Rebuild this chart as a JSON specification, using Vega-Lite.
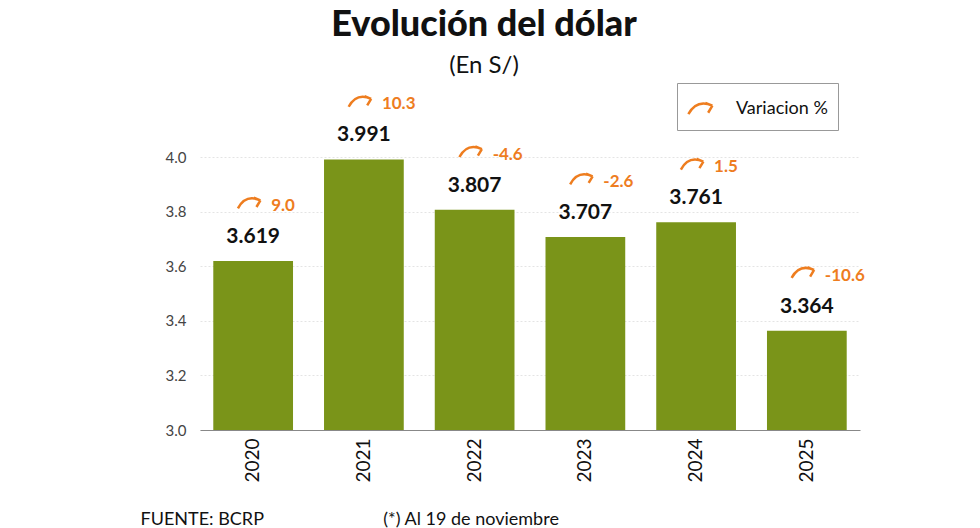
{
"$schema":"https://vega.github.io/schema/vega-lite/v6.json",
"width":660,"height":273,
"autosize":{"type":"none"},
"padding":{"left":200,"top":157,"right":120,"bottom":98},
"background":"white",
"title":{"text":"Evolución del dólar","subtitle":"(En S/)","anchor":"middle","frame":"group","dx":-46,"offset":4,"font":"Lato","fontSize":36,"fontWeight":900,"color":"#111","subtitleFont":"Lato","subtitleFontSize":24,"subtitleColor":"#111","subtitlePadding":10},
"data":{"values":[
{"year":"2020","v":3.619,"var":"9.0"},
{"year":"2021","v":3.991,"var":"10.3"},
{"year":"2022","v":3.807,"var":"-4.6"},
{"year":"2023","v":3.707,"var":"-2.6"},
{"year":"2024","v":3.761,"var":"1.5"},
{"year":"2025","v":3.364,"var":"-10.6"}
]},
"encoding":{
"x":{"field":"year","type":"nominal","scale":{"paddingInner":0.28,"paddingOuter":0.12},"axis":{"title":"FUENTE: BCRP\u00a0\u00a0\u00a0\u00a0\u00a0\u00a0\u00a0\u00a0\u00a0\u00a0\u00a0\u00a0\u00a0\u00a0\u00a0\u00a0\u00a0\u00a0\u00a0\u00a0\u00a0\u00a0\u00a0\u00a0\u00a0\u00a0(*) Al 19 de noviembre","titleAnchor":"start","titleX":-60,"titleY":80,"titleFont":"Lato","titleFontSize":18,"titleFontWeight":"normal","titleColor":"#111","labelAngle":-90,"labelFontSize":19,"labelFont":"Lato","labelColor":"#111","labelPadding":8,"domainColor":"#888","ticks":false}},
"y":{"field":"v","type":"quantitative","scale":{"domain":[3,4],"nice":false},"axis":{"title":null,"values":[3,3.2,3.4,3.6,3.8,4],"format":".1f","labelFontSize":15,"labelFont":"Lato","labelColor":"#444","domain":false,"ticks":false,"gridColor":"#e4e4e4","gridDash":[2,2],"labelPadding":14}}
},
"layer":[
{"mark":{"type":"bar","color":"#7a9419","clip":true}},
{"mark":{"type":"text","dy":-24,"font":"Lato","fontWeight":"bold","fontSize":21,"color":"#111"},"encoding":{"text":{"field":"v","format":".3f"}}},
{"mark":{"type":"text","dy":-55,"dx":18,"align":"left","font":"Lato","fontWeight":"bold","fontSize":17,"color":"#ee7d1f"},"encoding":{"text":{"field":"var"}}},
{"mark":{"type":"point","shape":"M-1,0.4 Q-0.4,-0.7 0.7,-0.2 M0.7,-0.2 L0.2,-0.4 M0.7,-0.2 L0.4,0.3","filled":false,"strokeWidth":2.5,"size":700,"xOffset":-2,"yOffset":-58,"opacity":1},
 "encoding":{"color":{"datum":"Variacion %","type":"nominal","scale":{"range":["#ee7d1f"]},"legend":{"title":null,"orient":"none","legendX":477,"legendY":-74,"strokeColor":"#999","padding":10,"labelFont":"Lato","labelFontSize":18,"labelColor":"#111","symbolSize":800,"symbolStrokeWidth":2.5,"symbolType":"M-1,0.4 Q-0.4,-0.7 0.7,-0.2 M0.7,-0.2 L0.2,-0.4 M0.7,-0.2 L0.4,0.3","symbolFillColor":"transparent","labelOffset":18,"cornerRadius":0}}}}
],
"config":{"view":{"stroke":null}}
}
